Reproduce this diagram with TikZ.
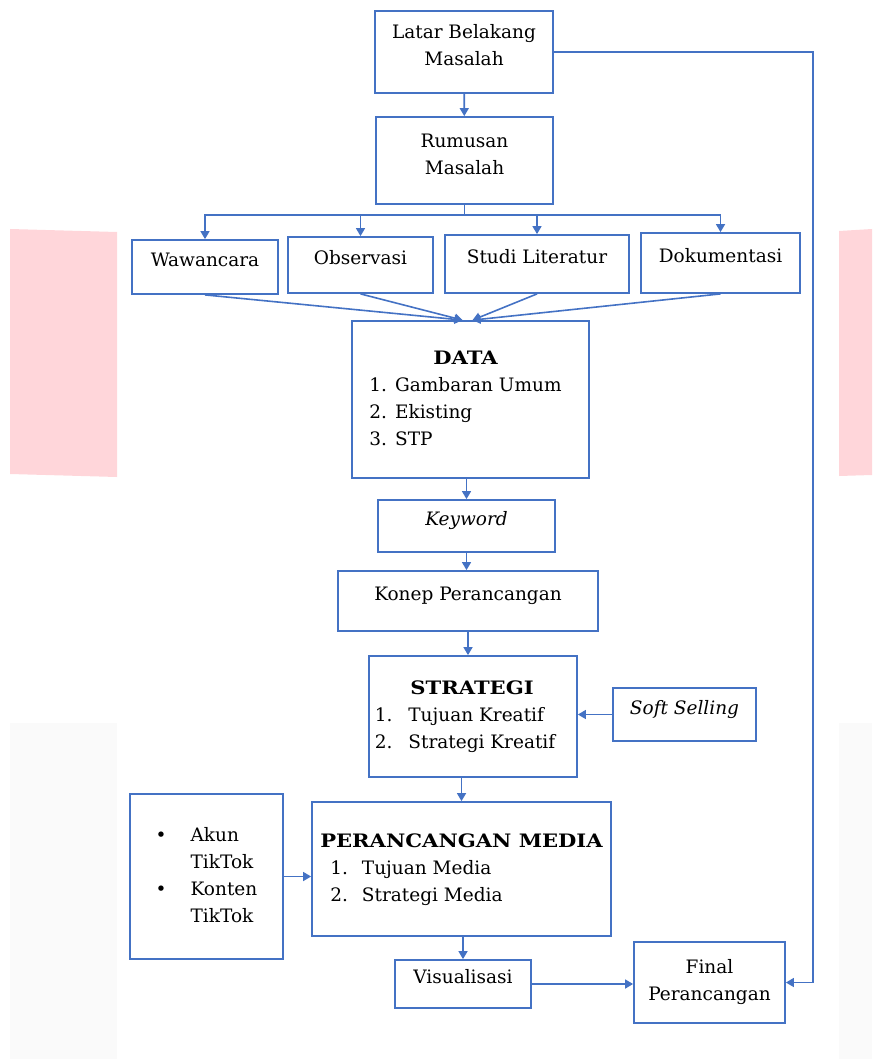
\documentclass[tikz,border=0pt]{standalone}
\usepackage{fontspec}
\setmainfont{DejaVu Serif}
\newfontfamily\headfont[FakeStretch=1.14]{DejaVu Serif Bold}
\usepackage{tikz}
\usetikzlibrary{arrows.meta}

\definecolor{boxblue}{HTML}{4472C4}
\definecolor{pinkbg}{HTML}{FFD6DA}
\definecolor{greybg}{HTML}{FAFAFA}

\begin{document}
\begin{tikzpicture}[x=1pt, y=-1pt, >={Triangle[length=8pt,width=9pt]},
    block/.style={draw=boxblue, line width=1.8pt, inner sep=0pt, align=center,
      font=\fontsize{18.5}{27}\selectfont},
    raised/.style={text height=0.8em, text depth=0.9em},
    link/.style={draw=boxblue, line width=1.6pt}]
    \useasboundingbox (0,0) rectangle (872,1059);

    % page background
    \fill[pinkbg] (10,229) -- (117,232) -- (117,477) -- (10,474) -- cycle;
    \fill[pinkbg] (839,231) -- (872,229) -- (872,475) -- (839,476) -- cycle;
    \fill[greybg] (10,723) rectangle (117,1059);
    \fill[greybg] (839,723) rectangle (872,1059);

    \node[block, text depth=14pt, minimum width=178pt, minimum height=82pt] (latar) at (464,52) {Latar Belakang\\Masalah};
    \node[block, text depth=12pt, minimum width=177pt, minimum height=87pt] (rumusan) at (464.5,160.5) {Rumusan\\Masalah};

    \node[block, raised, minimum width=146pt, minimum height=54pt] (waw) at (205,267) {Wawancara};
    \node[block, raised, minimum width=145pt, minimum height=56pt] (obs) at (360.5,265) {Observasi};
    \node[block, raised, minimum width=184pt, minimum height=58pt] (studi) at (537,264) {Studi Literatur};
    \node[block, raised, minimum width=159pt, minimum height=60pt] (doku) at (720.5,263) {Dokumentasi};

    \node[block, minimum width=237pt, minimum height=157pt] (data) at (470.5,399.5)
      {\begin{tabular}{@{}l@{\hspace{8pt}}l@{\hspace{10pt}}}
        \multicolumn{2}{@{}c@{\hspace{10pt}}}{\headfont DATA}\\
        1. & Gambaran Umum\\
        2. & Ekisting\\
        3. & STP
      \end{tabular}};
    \node[block, raised, minimum width=177pt, minimum height=52pt] (keyword) at (466.5,526) {\itshape Keyword};
    \node[block, raised, minimum width=260pt, minimum height=60pt] (konep) at (468,601) {Konep Perancangan};

    \node[block, minimum width=208pt, minimum height=121pt] (strategi) at (473,716.5)
      {\begin{tabular}{@{}l@{\hspace{16pt}}l@{\hspace{16pt}}}
        \multicolumn{2}{@{}c@{\hspace{2pt}}}{\headfont STRATEGI}\\
        1. & Tujuan Kreatif\\
        2. & Strategi Kreatif
      \end{tabular}};
    \node[block, raised, minimum width=143pt, minimum height=53pt] (soft) at (684.5,714.5) {\itshape Soft Selling};

    \node[block, minimum width=299pt, minimum height=134pt] (media) at (461.5,869)
      {\begin{tabular}{@{\hspace{10pt}}l@{\hspace{14pt}}l@{}}
        \multicolumn{2}{@{}c@{}}{\headfont PERANCANGAN MEDIA}\\
        1. & Tujuan Media\\
        2. & Strategi Media
      \end{tabular}};
    \node[block, minimum width=153pt, minimum height=165pt] (tiktok) at (206.5,876.5)
      {\begin{tabular}{@{}l@{\hspace{24pt}}l@{}}
        \textbullet & Akun\\
                    & TikTok\\
        \textbullet & Konten\\
                    & TikTok
      \end{tabular}};

    \node[block, raised, minimum width=136pt, minimum height=48pt] (vis) at (463,984) {Visualisasi};
    \node[block, minimum width=151pt, minimum height=81pt] (final) at (709.5,982.5) {Final\\Perancangan};

    \coordinate (split) at ([yshift=-10pt]rumusan.south);
    \coordinate (rail) at (813,52);

    % problem to data collection
    \draw[link,->] (latar) -- (rumusan);
    \draw[link] (rumusan.south) -- (split);
    \foreach \b in {waw,obs,studi,doku}
      \draw[link,->] (split) -| (\b.north);

    % collected data
    \draw[link,->] (waw.south) -- ([xshift=-8pt]data.north);
    \draw[link,->] (obs.south) -- ([xshift=-8pt]data.north);
    \draw[link,->] (studi.south) -- ([xshift=2pt]data.north);
    \draw[link,->] (doku.south) -- ([xshift=2pt]data.north);

    % concept and strategy
    \draw[link,->] (data.south -| keyword.north) -- (keyword.north);
    \draw[link,->] (keyword.south) -- (keyword.south |- konep.north);
    \draw[link,->] (konep.south) -- (konep.south |- strategi.north);
    \draw[link,->] (soft.west) -- (soft.west -| strategi.east);

    % media and result
    \draw[link,->] (media.north |- strategi.south) -- (media.north);
    \draw[link,->] (tiktok.east) -- (tiktok.east -| media.west);
    \draw[link,->] (vis.north |- media.south) -- (vis.north);
    \draw[link,->] (vis.east) -- (vis.east -| final.west);
    \draw[link,->] (latar.east) -- (rail) |- (final.east);
\end{tikzpicture}
\end{document}
